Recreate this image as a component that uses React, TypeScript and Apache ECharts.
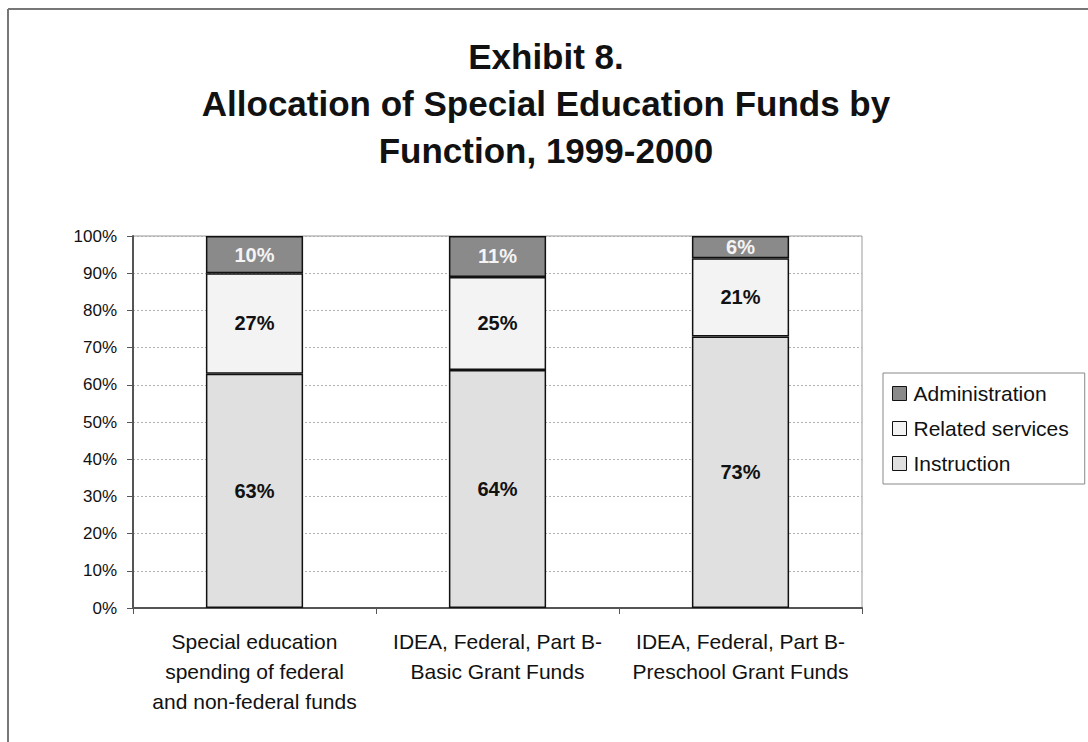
import React, { useEffect, useRef } from "react";
import * as echarts from "echarts";

const categories = [
  "Special education\nspending of federal\nand non-federal funds",
  "IDEA, Federal, Part B-\nBasic Grant Funds",
  "IDEA, Federal, Part B-\nPreschool Grant Funds",
];
const instruction = [63, 64, 73];
const relatedServices = [27, 25, 21];
const administration = [10, 11, 6];
const yTicks = [0, 10, 20, 30, 40, 50, 60, 70, 80, 90, 100];

const FONT = "'Liberation Sans', Arial, sans-serif";

export default function App() {
  const ref = useRef<HTMLDivElement>(null);
  useEffect(() => {
    document.body.style.margin = "0";
    const chart = echarts.init(ref.current!, null, { renderer: "svg" });
    const barBase = {
      type: "bar",
      stack: "total",
      barWidth: "40%",
      itemStyle: { borderColor: "#111", borderWidth: 1.5 },
    };
    const lbl = (color: string) => ({
      show: true,
      position: "inside",
      formatter: "{c}%",
      color,
      fontFamily: FONT,
      fontWeight: "bold",
      fontSize: 20,
    });
    chart.setOption({
      animation: false,
      backgroundColor: "#fff",
      textStyle: { fontFamily: FONT },
      title: {
        text: "Exhibit 8.\nAllocation of Special Education Funds by\nFunction, 1999-2000",
        left: 541,
        textAlign: "center",
        top: 28,
        textStyle: {
          fontFamily: FONT,
          fontSize: 35,
          fontWeight: "bold",
          color: "#111",
          lineHeight: 47,
        },
      },
      legend: {
        orient: "vertical",
        left: 883,
        top: 373,
        data: ["Administration", "Related services", "Instruction"],
        icon: "rect",
        itemWidth: 14,
        itemHeight: 14,
        itemGap: 14,
        padding: [10, 16, 10, 9],
        borderColor: "#888",
        borderWidth: 1,
        textStyle: { fontFamily: FONT, fontSize: 21, color: "#111", padding: [0, 0, 0, 2] },
        itemStyle: { borderColor: "#111", borderWidth: 1 },
      },
      grid: { left: 133, right: 226, top: 236, bottom: 134, show: true, borderColor: "#999", borderWidth: 1 },
      xAxis: {
        type: "category",
        data: categories,
        axisLine: { lineStyle: { color: "#555", width: 2 } },
        axisTick: { show: true, length: 6, lineStyle: { color: "#555" } },
        axisLabel: {
          interval: 0,
          hideOverlap: false,
          fontFamily: FONT,
          fontSize: 21,
          color: "#111",
          lineHeight: 30,
          margin: 18,
        },
      },
      yAxis: {
        type: "value",
        min: 0,
        max: 100,
        interval: 10,
        axisLine: { show: true, lineStyle: { color: "#555", width: 2 } },
        axisTick: { show: true, length: 6, lineStyle: { color: "#555" } },
        axisLabel: {
          formatter: (v: number) => (yTicks.includes(v) ? v + "%" : ""),
          fontFamily: FONT,
          fontSize: 17,
          color: "#111",
          margin: 16,
        },
        splitLine: { show: true, lineStyle: { color: "#b0b0b0", type: [2, 2], width: 1 } },
      },
      series: [
        { ...barBase, name: "Instruction", data: instruction, itemStyle: { ...barBase.itemStyle, color: "#e0e0e0" }, label: lbl("#111") },
        { ...barBase, name: "Related services", data: relatedServices, itemStyle: { ...barBase.itemStyle, color: "#f3f3f3" }, label: lbl("#111") },
        { ...barBase, name: "Administration", data: administration, itemStyle: { ...barBase.itemStyle, color: "#8a8a8a" }, label: lbl("#f4f4f4") },
      ],
      graphic: [
        { type: "line", shape: { x1: 8, y1: 9, x2: 1088, y2: 9 }, style: { stroke: "#777", lineWidth: 2 } },
        { type: "line", shape: { x1: 8, y1: 9, x2: 8, y2: 742 }, style: { stroke: "#777", lineWidth: 2 } },
      ],
    });
    return () => chart.dispose();
  }, []);
  return <div ref={ref} style={{ width: 1088, height: 742 }} />;
}
